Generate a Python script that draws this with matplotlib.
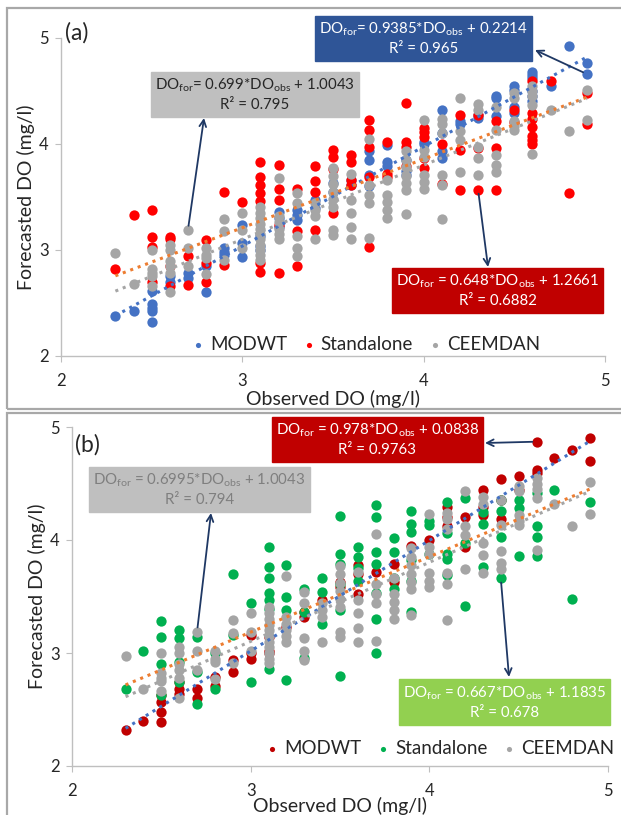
import numpy as np
import matplotlib
matplotlib.use('Agg')
import matplotlib.pyplot as plt
from matplotlib.patches import Rectangle

plt.rcParams['font.family'] = ['Lato', 'DejaVu Sans']
plt.rcParams['mathtext.fontset'] = 'custom'
plt.rcParams['mathtext.rm'] = 'Lato'
plt.rcParams['mathtext.it'] = 'Lato:italic'

# observed DO levels (mg/l) and the forecasts made at each level
obs_levels = [2.3, 2.4, 2.5, 2.6, 2.7, 2.8, 2.9, 3.0, 3.1, 3.2, 3.3, 3.4, 3.5, 3.6,
              3.7, 3.8, 3.9, 4.0, 4.1, 4.2, 4.3, 4.4, 4.5, 4.6, 4.7, 4.8, 4.9]

modwt_a = [[2.38], [2.42], [2.61, 2.49, 2.45, 2.42, 2.32], [2.75, 2.70], [2.78, 2.74],
           [2.85, 2.60], [3.02, 2.98, 2.95], [3.24, 3.07, 2.93], [3.13, 3.04, 3.00],
           [3.36, 3.30, 3.22], [3.38, 3.33, 3.28], [3.47, 3.40], [3.63, 3.55], [3.66, 3.61],
           [3.93, 3.85, 3.71, 3.60], [3.99, 3.83, 3.79], [3.85, 3.75, 3.71], [4.02, 4.00],
           [4.32, 4.10, 3.93, 3.87], [4.22, 4.19], [4.27, 4.25], [4.45, 4.43, 4.26],
           [4.55, 4.51, 4.35, 4.29], [4.68, 4.65, 4.62, 4.50, 4.45, 4.41], [4.55], [4.92],
           [4.76, 4.66]]

standalone_a = [[2.82], [3.33], [3.38, 3.12, 3.03, 2.70], [3.12, 3.10, 2.85, 2.66], [2.94, 2.67],
                [3.09, 2.88, 2.70], [3.55, 2.86], [3.45], [3.83, 3.69, 3.61, 3.54, 3.46, 2.88, 2.79],
                [3.80, 3.58, 3.47, 3.24, 2.78], [3.58, 3.18, 2.85], [3.79, 3.65, 3.55, 3.19],
                [3.94, 3.88, 3.76, 3.35], [3.90, 3.83, 3.66, 3.61], [4.23, 4.13, 3.97, 3.69, 3.03],
                [4.02, 3.72, 3.69], [4.39, 4.02, 3.97, 3.79], [4.15, 4.11, 4.07, 3.87, 3.77],
                [4.00, 3.62], [4.27, 3.94, 3.57], [4.27, 3.96, 3.57], [4.22, 3.96, 3.57],
                [4.32, 4.21], [4.59, 4.29, 4.24, 4.16, 4.08, 4.04, 4.00], [4.59], [3.54],
                [4.48, 4.19]]

ceemdan = [[2.97], [2.68], [3.00, 2.82, 2.78, 2.75, 2.66], [3.05, 3.00, 2.90, 2.85, 2.78, 2.60],
           [3.19, 3.02, 2.85], [3.02, 2.95, 2.92, 2.77], [3.29, 3.18, 2.91], [3.35, 3.19, 3.02],
           [3.41, 3.35, 3.30, 3.25, 3.20, 3.15, 3.10, 3.05, 3.00, 2.95, 2.91],
           [3.68, 3.32, 3.26, 3.20, 3.15, 3.10], [3.54, 3.44, 3.13, 3.02, 2.94],
           [3.44, 3.38, 3.32, 3.10], [3.77, 3.70, 3.62, 3.55, 3.48, 3.41, 3.19, 3.14],
           [3.72, 3.47, 3.35, 3.22, 3.10], [4.05, 3.61, 3.52, 3.44, 3.11],
           [3.66, 3.52, 3.45, 3.38, 3.30], [3.93, 3.85, 3.78, 3.70, 3.63, 3.57, 3.34],
           [4.23, 3.94, 3.88, 3.71, 3.64, 3.58], [4.24, 4.19, 4.10, 3.71, 3.61, 3.29],
           [4.43, 4.12, 4.04, 3.74], [4.38, 4.32, 3.97, 3.87, 3.71], [4.35, 4.13, 3.90, 3.80, 3.74],
           [4.48, 4.43, 4.22, 4.17, 4.13], [4.55, 4.50, 4.45, 4.37, 3.91], [4.32], [4.12],
           [4.51, 4.23]]

modwt_b = [[2.32], [2.40], [2.63, 2.57, 2.48, 2.39], [2.74, 2.68, 2.64], [2.68, 2.60],
           [2.79, 2.71], [2.94, 2.83], [3.16, 3.00, 2.95], [3.14, 3.02, 3.00], [3.23],
           [3.36, 3.32], [3.47], [3.63, 3.58], [3.78, 3.70, 3.52], [3.72], [3.79, 3.63],
           [3.95], [4.00], [4.29, 4.20, 4.12], [4.20, 3.94], [4.44, 4.29, 4.22],
           [4.54, 4.35, 4.19], [4.57, 4.44], [4.87, 4.62, 4.59], [4.73], [4.80], [4.90, 4.70]]

standalone_b = [[2.68], [3.02], [3.28, 3.14, 2.90, 2.63], [3.20, 3.13, 2.92, 2.74],
                [3.14, 2.83, 2.55], [3.00, 2.68], [3.70, 3.16], [3.44, 2.74],
                [3.94, 3.76, 3.66, 3.53, 3.47, 3.39, 2.86], [3.78, 3.50, 3.38, 2.76],
                [3.57, 3.36, 2.96], [3.66, 3.54, 3.26], [4.21, 3.88, 3.79, 3.61, 3.38, 2.80],
                [3.94, 3.85, 3.75, 3.64], [4.31, 4.20, 3.89, 3.79, 3.53, 3.30, 3.00],
                [4.02, 3.89, 3.66, 3.57], [4.26, 4.14, 4.07, 3.82, 3.64, 3.36],
                [4.17, 4.13, 3.88], [4.34, 4.06, 3.88, 3.83, 3.69], [4.37, 3.97, 3.42],
                [4.25, 4.14, 3.76], [4.35, 4.26, 4.03, 3.66], [4.35, 4.28, 3.86],
                [4.42, 4.12, 4.03, 3.86], [4.44], [3.48], [4.34]]

# fitted trend lines (slope, intercept) and R^2
fit_a = {'MODWT': (0.9385, 0.2214, 0.965), 'Standalone': (0.648, 1.2661, 0.6882),
         'CEEMDAN': (0.699, 1.0043, 0.795)}
fit_b = {'MODWT': (0.978, 0.0838, 0.9763), 'Standalone': (0.667, 1.1835, 0.678),
         'CEEMDAN': (0.6995, 1.0043, 0.794)}

W, H = 621, 815


def flat(groups):
    x, y = [], []
    for lvl, vals in zip(obs_levels, groups):
        x += [lvl] * len(vals)
        y += vals
    return np.array(x), np.array(y)


def fx(p):
    return p / W


def fy(p):
    return 1 - p / H


fig = plt.figure(figsize=(W / 100, H / 100), dpi=100)

# panel frames
fig.patches.append(Rectangle((fx(7), fy(409)), fx(640), fy(8) - fy(409), transform=fig.transFigure,
                             fill=False, ec='#A8A8A8', lw=1.6))
fig.patches.append(Rectangle((fx(7), -0.02), fx(640), fy(413) + 0.02, transform=fig.transFigure,
                             fill=False, ec='#A8A8A8', lw=1.6))

ax_a = fig.add_axes([fx(61), fy(356), fx(605) - fx(61), fy(38) - fy(356)])
ax_b = fig.add_axes([fx(72), fy(766), fx(608) - fx(72), fy(427) - fy(766)])

panels = [
    (ax_a, [('MODWT', modwt_a, '#4472C4'), ('Standalone', standalone_a, '#FF0000'),
            ('CEEMDAN', ceemdan, '#A5A5A5')], fit_a, (0.56, 0.035), 1),
    (ax_b, [('MODWT', modwt_b, '#C00000'), ('Standalone', standalone_b, '#00B050'),
            ('CEEMDAN', ceemdan, '#A5A5A5')], fit_b, (0.687, 0.053), -1),
]
trend_colors = {'MODWT': '#4472C4', 'Standalone': '#ED7D31', 'CEEMDAN': '#A5A5A5'}

for ax, series, fits, leg_pos, xpad in panels:
    for name, groups, col in series:
        x, y = flat(groups)
        ax.scatter(x, y, s=55, color=col, label=name, lw=0, zorder=2)
    xl = np.array([2.3, 4.9])
    for name in ['MODWT', 'Standalone', 'CEEMDAN']:
        m, c, r2 = fits[name]
        ax.plot(xl, m * xl + c, ls=(0, (1, 1.6)), lw=2.2, color=trend_colors[name], zorder=3)
    ax.set_xlim(2, 5)
    ax.set_ylim(2, 5)
    ax.set_xticks([2, 3, 4, 5])
    ax.set_yticks([2, 3, 4, 5])
    for s in ['top', 'right']:
        ax.spines[s].set_visible(False)
    for s in ['left', 'bottom']:
        ax.spines[s].set_color('#BFBFBF')
        ax.spines[s].set_linewidth(1.0)
    ax.tick_params(axis='both', length=4, color='#BFBFBF', labelsize=12, labelcolor='#262626')
    ax.tick_params(axis='x', pad=8)
    ax.tick_params(axis='y', pad=5)
    ax.patch.set_alpha(0)
    ax.set_xlabel('Observed DO (mg/l)', fontsize=14, color='#262626', labelpad=xpad)
    ax.set_ylabel('Forecasted DO (mg/l)', fontsize=14, color='#262626', labelpad=3)
    ax.legend(loc='center', bbox_to_anchor=leg_pos, ncol=3, frameon=False, fontsize=13.5,
              markerscale=0.5, handlelength=0.7, handletextpad=0.3, columnspacing=0.8,
              borderaxespad=0, labelcolor='#262626')

fig.text(fx(65), fy(33), '(a)', fontsize=16.5, va='center', color='#262626')
fig.text(fx(75), fy(445), '(b)', fontsize=16.5, va='center', color='#262626')


def eq_box(left, top, right, bottom, fill, tcolor, slope, icpt, r2, sp=''):
    fig.patches.append(Rectangle((fx(left), fy(bottom)), fx(right - left), fy(top) - fy(bottom),
                                 transform=fig.transFigure, color=fill, zorder=5))
    line1 = r'DO$_{\mathregular{for}}$' + sp + '= ' + f'{slope}*' + r'DO$_{\mathregular{obs}}$' + f' + {icpt}'
    line2 = f'R² = {r2}'
    cx = fx((left + right) / 2)
    fig.text(cx, fy(top + (bottom - top) * 0.3), line1, ha='center', va='center', fontsize=10.8,
             color=tcolor, zorder=6)
    fig.text(cx, fy(top + (bottom - top) * 0.73), line2, ha='center', va='center', fontsize=10.8,
             color=tcolor, zorder=6)


def arrow(ax, pt, end_px):
    ax.annotate('', xy=(fx(end_px[0]), fy(end_px[1])), xycoords='figure fraction',
                xytext=pt, textcoords='data', annotation_clip=False,
                arrowprops=dict(arrowstyle='->', color='#1F3864', lw=1.3, shrinkA=3, shrinkB=0,
                                mutation_scale=12))


# panel (a) equations
eq_box(315, 16, 532, 61, '#2F5597', 'white', 0.9385, 0.2214, 0.965)
eq_box(151, 72, 359, 117, '#BFBFBF', '#262626', 0.699, 1.0043, 0.795)
eq_box(392, 268, 603, 313, '#C00000', 'white', 0.648, 1.2661, 0.6882, sp=' ')
arrow(ax_a, (4.9, 4.66), (535, 50))
arrow(ax_a, (2.7, 3.19), (204, 118))
arrow(ax_a, (4.3, 3.57), (488, 267))

# panel (b) equations
eq_box(272, 417, 483, 462, '#C00000', 'white', 0.978, 0.0838, 0.9763, sp=' ')
eq_box(89, 467, 310, 512, '#BFBFBF', '#7F7F7F', 0.6995, 1.0043, 0.794, sp=' ')
eq_box(399, 679, 610, 725, '#92D050', 'white', 0.667, 1.1835, 0.678, sp=' ')
arrow(ax_b, (4.6, 4.87), (485, 443))
arrow(ax_b, (2.7, 3.19), (211, 513))
arrow(ax_b, (4.4, 3.66), (509, 677))

fig.savefig('out.png', dpi=100)
